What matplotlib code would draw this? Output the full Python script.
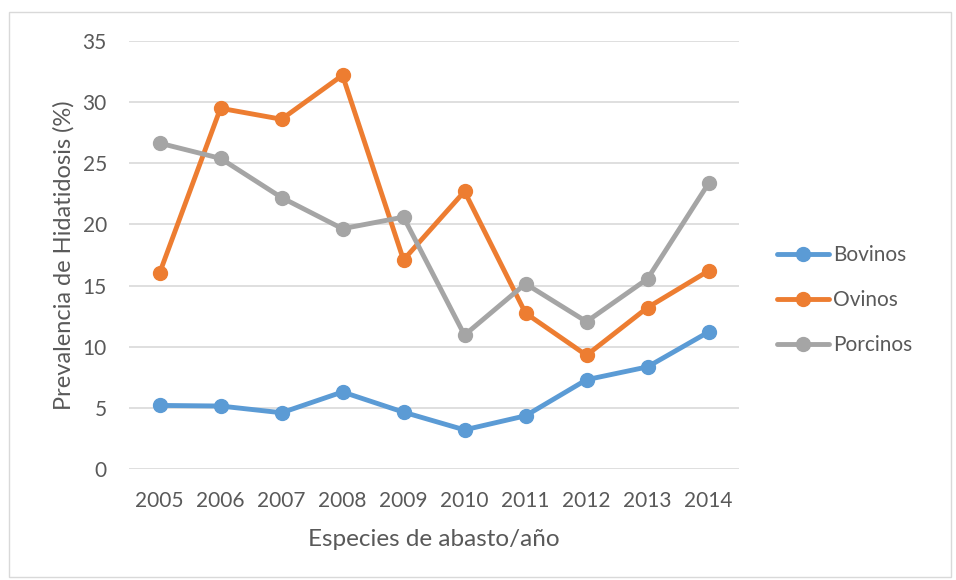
import matplotlib

matplotlib.use("Agg")
import matplotlib.pyplot as plt
from matplotlib.patches import Rectangle

years = ["2005", "2006", "2007", "2008", "2009", "2010", "2011", "2012", "2013", "2014"]
bovinos = [5.2, 5.15, 4.6, 6.3, 4.65, 3.2, 4.35, 7.3, 8.35, 11.2]
ovinos = [16.0, 29.5, 28.6, 32.2, 17.1, 22.7, 12.75, 9.3, 13.2, 16.2]
porcinos = [26.65, 25.4, 22.2, 19.65, 20.6, 10.95, 15.15, 12.05, 15.55, 23.35]
y_ticks = [0, 5, 10, 15, 20, 25, 30, 35]

SERIES = [
    ("Bovinos", bovinos, "#5B9BD5"),
    ("Ovinos", ovinos, "#ED7D31"),
    ("Porcinos", porcinos, "#A5A5A5"),
]
TEXT = "#595959"

plt.rcParams["font.family"] = ["Lato", "DejaVu Sans"]

fig = plt.figure(figsize=(9.56, 5.8), dpi=100)
fig.patches.append(
    Rectangle((9 / 956, 3 / 580), 942 / 956, 565 / 580, transform=fig.transFigure,
              fill=False, edgecolor="#D9D9D9", linewidth=1)
)
ax = fig.add_axes([129 / 956, 1 - 469 / 580, 610 / 956, 428 / 580])

positions = list(range(len(years)))
for name, values, color in SERIES:
    ax.plot(positions, values, color=color, linewidth=3.5, marker="o",
            markersize=10, label=name, solid_capstyle="round")

ax.set_xlim(-0.5, len(years) - 0.5)
ax.set_ylim(0, 35)
ax.set_yticks(y_ticks)
ax.set_xticks(positions)
ax.set_xticklabels(years)
ax.grid(axis="y", color="#D9D9D9", linewidth=1.2)
ax.set_axisbelow(True)
for spine in ax.spines.values():
    spine.set_visible(False)
ax.tick_params(length=0, labelsize=15, colors=TEXT)
ax.tick_params(axis="x", pad=16)
ax.tick_params(axis="y", pad=16)
ax.set_xlabel("Especies de abasto/año", fontsize=17.5, color=TEXT, labelpad=13)
ax.set_ylabel("Prevalencia de Hidatidosis (%)", fontsize=17, color=TEXT, labelpad=6)

ax.legend(loc="center left", bbox_to_anchor=(1.045, 0.395), frameon=False,
          fontsize=15, labelcolor=TEXT, handlelength=2.5, labelspacing=1.2,
          handletextpad=0.2, borderpad=0)

fig.savefig("out.png", dpi=100)
